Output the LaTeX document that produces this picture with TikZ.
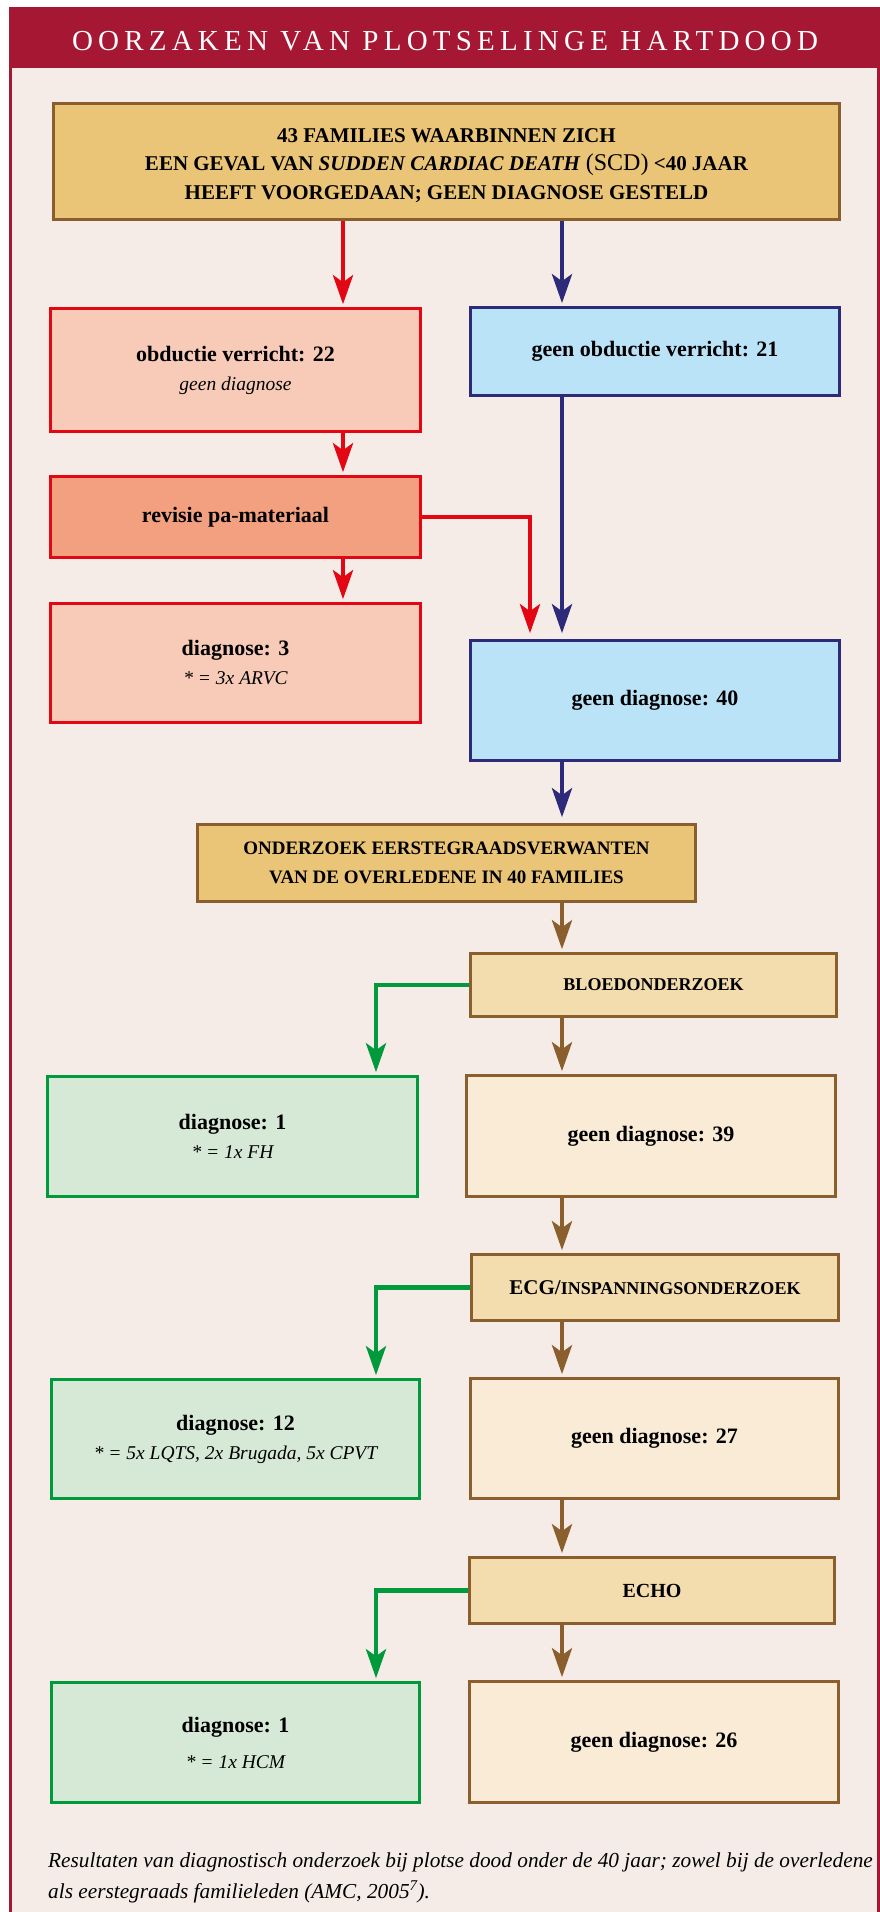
\documentclass[tikz,border=0pt]{standalone}
\usepackage{fontspec}
\setmainfont{Liberation Serif}
\usetikzlibrary{arrows.meta,calc}
\definecolor{bg}{HTML}{F5ECE7}
\definecolor{crimson}{HTML}{A51733}
\definecolor{gold}{HTML}{EAC477}
\definecolor{brownline}{HTML}{8B5E2E}
\definecolor{redline}{HTML}{E30613}
\definecolor{pinkfill}{HTML}{F7CBB7}
\definecolor{salmon}{HTML}{F2A080}
\definecolor{navy}{HTML}{2E2A7A}
\definecolor{skyfill}{HTML}{BBE3F8}
\definecolor{tanfill}{HTML}{F3DCAE}
\definecolor{creamfill}{HTML}{F9EBD5}
\definecolor{greenline}{HTML}{009A3D}
\definecolor{greenfill}{HTML}{D6E9D6}
\newcommand{\subline}[1]{{\mdseries\itshape\fontsize{19.5}{29}\selectfont #1}}
\begin{document}
\begin{tikzpicture}[x=1pt,y=-1pt,
  box/.style={draw, line width=2.6pt, inner sep=0pt, align=center, font=\bfseries\fontsize{22}{29}\selectfont},
  goldbox/.style={box, fill=gold, draw=brownline},
  redbox/.style={box, fill=pinkfill, draw=redline},
  salmonbox/.style={box, fill=salmon, draw=redline},
  bluebox/.style={box, fill=skyfill, draw=navy},
  tanbox/.style={box, fill=tanfill, draw=brownline},
  creambox/.style={box, fill=creamfill, draw=brownline},
  greenbox/.style={box, fill=greenfill, draw=greenline},
  conn/.style={line width=4.5pt, -{Stealth[length=29pt,width=20pt,inset=7pt]}, shorten >=3pt},
  redconn/.style={conn, draw=redline},
  blueconn/.style={conn, draw=navy},
  brownconn/.style={conn, draw=brownline},
  greenconn/.style={conn, draw=greenline},
  captext/.style={anchor=base west, inner sep=0pt, font=\itshape\fontsize{21.3}{31}\selectfont}
]
\useasboundingbox (0,0) rectangle (879,1912);
\fill[white] (0,0) rectangle (879,1912);
\filldraw[fill=bg, draw=crimson, line width=2.5pt] (10.5,8) rectangle (878.5,1930);
\fill[crimson] (9.25,8) rectangle (882,68);
\node[text=white, inner sep=0pt, font=\fontsize{29}{29}\selectfont\addfontfeature{LetterSpace=18}] (title) at (445,41.5) {OORZAKEN VAN PLOTSELINGE HARTDOOD};

\coordinate (rlane) at (343,0);
\coordinate (blane) at (562,0);
\coordinate (rlanetwo) at (530,0);
\coordinate (glane) at (376,0);

\node[goldbox, minimum width=786pt, minimum height=116pt, font=\bfseries\fontsize{21}{28.5}\selectfont] (top) at (446.5,161.5)
 {\rule{0pt}{22pt}43 FAMILIES WAARBINNEN ZICH\\
  EEN GEVAL VAN \textit{SUDDEN CARDIAC DEATH} {\mdseries\fontsize{24}{28.5}\selectfont(SCD)} <40 JAAR\\
  HEEFT VOORGEDAAN; GEEN DIAGNOSE GESTELD};
\node[redbox, minimum width=370pt, minimum height=123pt] (obd) at (235.5,370)
 {obductie verricht: 22\\\subline{geen diagnose}};
\node[bluebox, minimum width=369pt, minimum height=88pt] (gobd) at (655,351.5) {geen obductie verricht: 21};
\node[salmonbox, minimum width=370pt, minimum height=81pt] (rev) at (235.5,517) {revisie pa-materiaal};
\node[redbox, minimum width=370pt, minimum height=119pt] (dthree) at (235.5,663)
 {diagnose: 3\\\subline{* = 3x ARVC}};
\node[bluebox, minimum width=369pt, minimum height=120pt] (gforty) at (655,700.5) {geen diagnose: 40};
\node[goldbox, minimum width=498pt, minimum height=77pt, font=\bfseries\fontsize{19}{29}\selectfont] (ond) at (446.5,863)
 {ONDERZOEK EERSTEGRAADSVERWANTEN\\VAN DE OVERLEDENE IN 40 FAMILIES};
\node[tanbox, minimum width=366pt, minimum height=63pt, font=\bfseries\fontsize{18}{29}\selectfont] (bloed) at (653.5,985)
 {BLOEDONDERZOEK};
\node[greenbox, minimum width=370pt, minimum height=120pt] (done) at (232.5,1136.5)
 {diagnose: 1\\\subline{* = 1x FH}};
\node[creambox, minimum width=369pt, minimum height=121pt] (gthirtynine) at (651,1136) {geen diagnose: 39};
\node[tanbox, minimum width=367pt, minimum height=66pt, font=\bfseries\fontsize{18}{29}\selectfont] (ecg) at (655,1287.5)
 {{\fontsize{21}{29}\selectfont ECG/}INSPANNINGSONDERZOEK};
\node[greenbox, minimum width=368pt, minimum height=119pt] (dtwelve) at (235.5,1439)
 {diagnose: 12\\\subline{* = 5x LQTS, 2x Brugada, 5x CPVT}};
\node[creambox, minimum width=368pt, minimum height=120pt] (gtwentyseven) at (654.5,1438.5) {geen diagnose: 27};
\node[tanbox, minimum width=365pt, minimum height=66pt, font=\bfseries\fontsize{20}{29}\selectfont] (echo) at (652,1590.5)
 {ECHO};
\node[greenbox, minimum width=368pt, minimum height=120pt] (dhcm) at (235.5,1742.5)
 {diagnose: 1\\[7pt]\subline{* = 1x HCM}};
\node[creambox, minimum width=369pt, minimum height=121pt] (gtwentysix) at (654,1742) {geen diagnose: 26};

\draw[redconn] (top.south -| rlane) -- (obd.north -| rlane);
\draw[blueconn] (top.south -| blane) -- (gobd.north -| blane);
\draw[redconn] (obd.south -| rlane) -- (rev.north -| rlane);
\draw[redconn] (rev.south -| rlane) -- (dthree.north -| rlane);
\draw[redconn, shorten >=6pt] (rev.east) -| (gforty.north -| rlanetwo);
\draw[blueconn, shorten >=6pt] (gobd.south -| blane) -- (gforty.north -| blane);
\draw[blueconn, shorten >=6pt] (gforty.south -| blane) -- (ond.north -| blane);
\draw[brownconn] (ond.south -| blane) -- (bloed.north -| blane);
\draw[greenconn] (bloed.west) -| (done.north -| glane);
\draw[brownconn] (bloed.south -| blane) -- (gthirtynine.north -| blane);
\draw[brownconn] (gthirtynine.south -| blane) -- (ecg.north -| blane);
\draw[greenconn] (ecg.west) -| (dtwelve.north -| glane);
\draw[brownconn] (ecg.south -| blane) -- (gtwentyseven.north -| blane);
\draw[brownconn] (gtwentyseven.south -| blane) -- (echo.north -| blane);
\draw[greenconn] (echo.west) -| (dhcm.north -| glane);
\draw[brownconn] (echo.south -| blane) -- (gtwentysix.north -| blane);

\node[captext] (capone) at (48,1867) {Resultaten van diagnostisch onderzoek bij plotse dood onder de 40 jaar; zowel bij de overledene};
\node[captext] (captwo) at (48,1898) {als eerstegraads familieleden (AMC, 2005\textsuperscript{7}).};
\end{tikzpicture}
\end{document}
